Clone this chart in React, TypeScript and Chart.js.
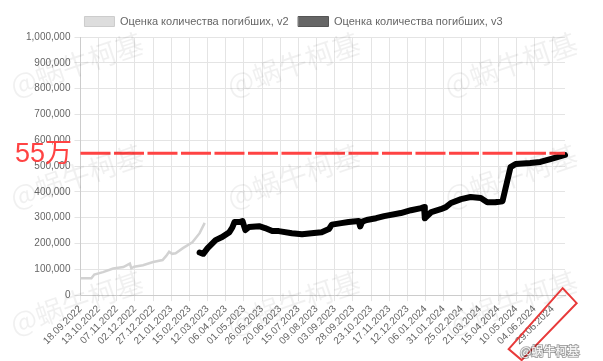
import React, { useEffect, useRef } from "react";
import { Chart, registerables } from "chart.js";

Chart.register(...registerables);

// Category labels: one per day, starting 18.09.2022
const START_DATE = [2022, 8, 18];
const DAY_COUNT = 668;
const TICK_EVERY = 25;

// Series v2 (grey): day offset from start, value
const V2_DAYS = [0, 15, 19, 31, 45, 59, 68, 70, 74, 86, 100, 113, 118, 122, 126, 131, 141, 154, 164, 171];
const V2_VALUES = [65000, 65000, 80000, 89000, 103000, 109000, 122000, 104000, 110000, 116000, 128000, 136000, 152000, 168000, 160000, 162000, 182000, 205000, 240000, 280000];

// Series v3 (black)
const V3_DAYS = [164, 169, 175, 186, 195, 205, 209, 212, 219, 223, 227, 232, 246, 254, 264, 273, 291, 305, 318, 332, 342, 346, 359, 369, 383, 385, 388, 394, 407, 418, 441, 455, 469, 473, 474, 483, 496, 503, 510, 524, 537, 551, 560, 571, 581, 592, 599, 619, 633, 647, 667];
const V3_VALUES = [165000, 160000, 182000, 213000, 225000, 244000, 262000, 283000, 283000, 287000, 252000, 264000, 267000, 260000, 248000, 248000, 240000, 236000, 240000, 244000, 256000, 273000, 279000, 283000, 287000, 266000, 285000, 291000, 298000, 306000, 318000, 329000, 337000, 341000, 298000, 322000, 333000, 341000, 357000, 372000, 380000, 376000, 360000, 360000, 364000, 496000, 508000, 512000, 516000, 527000, 543000];

const SERIES_NAMES = ["Оценка количества погибших, v2", "Оценка количества погибших, v3"];
const THRESHOLD = 550000;
const THRESHOLD_LABEL = "55万";
const HIGHLIGHT_TICK = 650;
const WATERMARK = "@蜗牛柯基";

const Y_MIN = 0;
const Y_MAX = 1000000;
const Y_STEP = 100000;

function pad(n: number) {
  return n < 10 ? "0" + n : "" + n;
}

function buildLabels(): string[] {
  const out: string[] = [];
  for (let i = 0; i < DAY_COUNT; i++) {
    const d = new Date(Date.UTC(START_DATE[0], START_DATE[1], START_DATE[2] + i));
    out.push(pad(d.getUTCDate()) + "." + pad(d.getUTCMonth() + 1) + "." + d.getUTCFullYear());
  }
  return out;
}

const FONT = "'Liberation Sans', Arial, sans-serif";

const overlayPlugin = {
  id: "overlay",
  afterDatasetsDraw(chart: any) {
    const { ctx, chartArea, scales } = chart;
    const y = scales.y.getPixelForValue(THRESHOLD);
    ctx.save();
    ctx.strokeStyle = "#ff4343";
    ctx.lineWidth = 3;
    ctx.setLineDash([30, 3.5]);
    ctx.beginPath();
    ctx.moveTo(chartArea.left, y);
    ctx.lineTo(chartArea.right, y);
    ctx.stroke();
    ctx.restore();
  },
  afterDraw(chart: any) {
    const { ctx, chartArea, scales, width, height } = chart;
    // watermarks
    ctx.save();
    ctx.fillStyle = "rgba(0,0,0,0.06)";
    ctx.font = "28px 'Noto Sans CJK SC', sans-serif";
    const cols = [0.01, 0.37, 0.73];
    const rows = [0.24, 0.55, 0.9];
    for (const r of rows) {
      for (const c of cols) {
        ctx.save();
        ctx.translate(c * width + 5, r * height);
        ctx.rotate(-0.33);
        ctx.fillText(WATERMARK, 0, 0);
        ctx.restore();
      }
    }
    ctx.restore();

    // threshold label
    const y = scales.y.getPixelForValue(THRESHOLD);
    ctx.save();
    ctx.fillStyle = "#ff4343";
    ctx.font = "27px 'Liberation Sans', 'Noto Sans CJK SC', sans-serif";
    ctx.textBaseline = "middle";
    ctx.fillText(THRESHOLD_LABEL, 15, y + 1);
    ctx.restore();

    // highlight box around last tick label
    const px = scales.x.getPixelForValue(HIGHLIGHT_TICK);
    const b = chartArea.bottom;
    ctx.save();
    ctx.strokeStyle = "#e83a3a";
    ctx.lineWidth = 2;
    ctx.beginPath();
    ctx.moveTo(px + 10, b - 7);
    ctx.lineTo(px + 24, b + 8);
    ctx.lineTo(px - 31, b + 65);
    ctx.lineTo(px - 44, b + 54);
    ctx.closePath();
    ctx.stroke();
    ctx.restore();

    // weibo tag
    ctx.save();
    ctx.font = "12px 'Noto Sans CJK SC', sans-serif";
    ctx.lineWidth = 2;
    ctx.strokeStyle = "rgba(0,0,0,0.35)";
    ctx.fillStyle = "#ffffff";
    ctx.strokeText(WATERMARK, width - 83, height - 10);
    ctx.fillText(WATERMARK, width - 83, height - 10);
    ctx.restore();
  },
};

export default function App() {
  const ref = useRef<HTMLCanvasElement | null>(null);
  useEffect(() => {
    if (!ref.current) return;
    const labels = buildLabels();
    const chart = new Chart(ref.current, {
      type: "line",
      data: {
        labels,
        datasets: [
          {
            label: SERIES_NAMES[0],
            data: V2_DAYS.map((d, i) => ({ x: labels[d], y: V2_VALUES[i] })) as any,
            borderColor: "#d2d2d2",
            backgroundColor: "#dddddd",
            borderWidth: 2.5,
            pointRadius: 0,
            tension: 0,
            fill: false,
          },
          {
            label: SERIES_NAMES[1],
            data: V3_DAYS.map((d, i) => ({ x: labels[d], y: V3_VALUES[i] })) as any,
            borderColor: "#000000",
            backgroundColor: "#666666",
            borderWidth: 6,
            borderJoinStyle: "round",
            borderCapStyle: "round",
            pointRadius: 0,
            tension: 0,
            fill: false,
          },
        ],
      },
      options: {
        responsive: false,
        animation: false,
        layout: { padding: { left: 22, right: 38, top: 6, bottom: 12 } },
        font: { family: FONT, size: 10 } as any,
        plugins: {
          tooltip: { enabled: false },
          legend: {
            labels: {
              boxWidth: 30,
              boxHeight: 10,
              color: "#666",
              padding: 10,
              font: { family: FONT, size: 11 },
              generateLabels: (c: any) => {
                const items = (Chart.defaults.plugins.legend.labels as any).generateLabels(c);
                const fills = ["#dddddd", "#666666"];
                const strokes = ["#cccccc", "#555555"];
                items.forEach((it: any, i: number) => {
                  it.fillStyle = fills[i];
                  it.strokeStyle = strokes[i];
                  it.lineWidth = 1;
                });
                return items;
              },
            },
          },
        },
        scales: {
          x: {
            type: "category",
            offset: false,
            grid: {
              color: (ctx: any) => (ctx.tick && ctx.tick.value % TICK_EVERY === 0 ? "#e4e4e4" : "rgba(0,0,0,0)"),
              tickLength: 6,
            },
            border: { color: "#cccccc" },
            ticks: {
              autoSkip: false,
              maxRotation: 45,
              minRotation: 45,
              color: "#666",
              font: { family: FONT, size: 10 },
              padding: 2,
              callback: (v: any, i: number) => (i % TICK_EVERY === 0 ? labels[i] : null),
            },
          },
          y: {
            min: Y_MIN,
            max: Y_MAX,
            grid: { color: "#e4e4e4", tickLength: 6 },
            border: { color: "#cccccc" },
            ticks: {
              stepSize: Y_STEP,
              color: "#666",
              padding: 4,
              font: { family: FONT, size: 10 },
              callback: (v: any) => Number(v).toLocaleString("en-US"),
            },
          },
        },
      },
      plugins: [overlayPlugin],
    });
    return () => chart.destroy();
  }, []);
  return (
    <div style={{ position: "absolute", left: 0, top: 0, width: 603, height: 361, background: "#fff" }}>
      <canvas ref={ref} width={603} height={361} />
    </div>
  );
}
